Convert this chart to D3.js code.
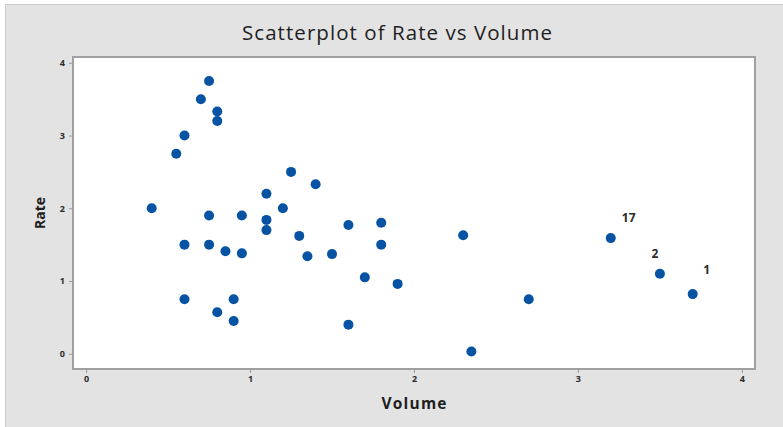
<!DOCTYPE html>
<html>
<head>
<meta charset="utf-8">
<script src="https://cdn.jsdelivr.net/npm/d3@7.9.0/dist/d3.min.js"></script>
<style>
  body { margin: 0; background: #fff; }
  svg { display: block; }
</style>
</head>
<body>
<div id="chart"></div>
<script>
// observation order matters: labelled points are obs 1, 2 and 17
const volume = [3.7, 3.5, 0.4, 0.55, 0.6, 0.7, 0.75, 0.8, 0.8, 0.6, 0.75, 0.75, 0.85, 0.95, 0.95, 0.6,
  3.2, 0.8, 0.9, 0.9, 1.1, 1.1, 1.1, 1.2, 1.25, 1.4, 1.3, 1.35, 1.5, 1.6, 1.6, 1.8, 1.8, 1.7, 1.9, 2.3, 2.35, 2.7];
const rate = [0.82, 1.1, 2.0, 2.75, 3.0, 3.5, 3.75, 3.33, 3.2, 1.5, 1.9, 1.5, 1.41, 1.9, 1.38, 0.75,
  1.59, 0.57, 0.75, 0.45, 2.2, 1.84, 1.7, 2.0, 2.5, 2.33, 1.62, 1.34, 1.37, 1.77, 0.4, 1.8, 1.5, 1.05, 0.96, 1.63, 0.03, 0.75];
const labelled = [17, 2, 1];
const xTicks = [0, 1, 2, 3, 4];
const yTicks = [0, 1, 2, 3, 4];

const width = 783, height = 427;
const frame = { left: 73, top: 57, right: 755, bottom: 369 };
const blue = '#0753a3';
const fontFam = '"Open Sans", "DejaVu Sans", sans-serif';

const svg = d3.select('#chart').append('svg')
  .attr('width', width).attr('height', height);

// outer grey panel
svg.append('rect')
  .attr('x', 5.5).attr('y', 4.5)
  .attr('width', width - 5).attr('height', height - 4)
  .attr('fill', '#e3e3e3').attr('stroke', '#cccccc');

const x = d3.scaleLinear().domain([-0.08, 4.08]).range([frame.left, frame.right]);
const y = d3.scaleLinear().domain([-0.21, 4.08]).range([frame.bottom, frame.top]);

// data region
svg.append('rect')
  .attr('x', frame.left).attr('y', frame.top)
  .attr('width', frame.right - frame.left).attr('height', frame.bottom - frame.top)
  .attr('fill', '#fff').attr('stroke', '#a0a0a0').attr('stroke-width', 2);

svg.append('text')
  .attr('x', 397).attr('y', 40)
  .attr('text-anchor', 'middle')
  .attr('font-family', fontFam).attr('font-size', 20.5)
  .attr('textLength', 310).attr('lengthAdjust', 'spacing')
  .attr('fill', '#1e1e1e')
  .text('Scatterplot of Rate vs Volume');

const xAxis = svg.append('g')
  .attr('transform', `translate(0, ${frame.bottom + 1})`)
  .call(d3.axisBottom(x).tickValues(xTicks).tickSize(3).tickPadding(3).tickFormat(d3.format('d')));
const yAxis = svg.append('g')
  .attr('transform', `translate(${frame.left - 1}, 0)`)
  .call(d3.axisLeft(y).tickValues(yTicks).tickSize(3).tickPadding(4).tickFormat(d3.format('d')));

[xAxis, yAxis].forEach(g => {
  g.select('.domain').remove();
  g.selectAll('line').attr('stroke', '#9a9a9a');
  g.selectAll('text')
    .attr('font-family', fontFam).attr('font-size', 9).attr('font-weight', 'bold')
    .attr('fill', '#2a2a2a');
});

svg.append('text')
  .attr('x', 414).attr('y', 409)
  .attr('text-anchor', 'middle')
  .attr('font-family', fontFam).attr('font-size', 15.5).attr('font-weight', 'bold')
  .attr('textLength', 65).attr('lengthAdjust', 'spacing')
  .attr('fill', '#1e1e1e')
  .text('Volume');

svg.append('text')
  .attr('transform', 'translate(45, 213) rotate(-90)')
  .attr('text-anchor', 'middle')
  .attr('font-family', fontFam).attr('font-size', 14).attr('font-weight', 'bold')
  .attr('fill', '#1e1e1e')
  .text('Rate');

const points = volume.map((v, i) => ({ obs: i + 1, volume: v, rate: rate[i] }));

svg.append('g')
  .selectAll('circle')
  .data(points)
  .join('circle')
  .attr('cx', d => x(d.volume))
  .attr('cy', d => y(d.rate))
  .attr('r', 5)
  .attr('fill', blue);

// where Minitab put each observation label, relative to its point
const labelOffset = { 17: [18, -16], 2: [-5, -16], 1: [14, -20] };

svg.append('g')
  .selectAll('text')
  .data(points.filter(d => labelled.includes(d.obs)))
  .join('text')
  .attr('x', d => x(d.volume) + labelOffset[d.obs][0])
  .attr('y', d => y(d.rate) + labelOffset[d.obs][1])
  .attr('text-anchor', 'middle')
  .attr('font-family', fontFam).attr('font-size', 12).attr('font-weight', 'bold')
  .attr('fill', '#2a2a2a')
  .text(d => d.obs);
</script>
</body>
</html>
